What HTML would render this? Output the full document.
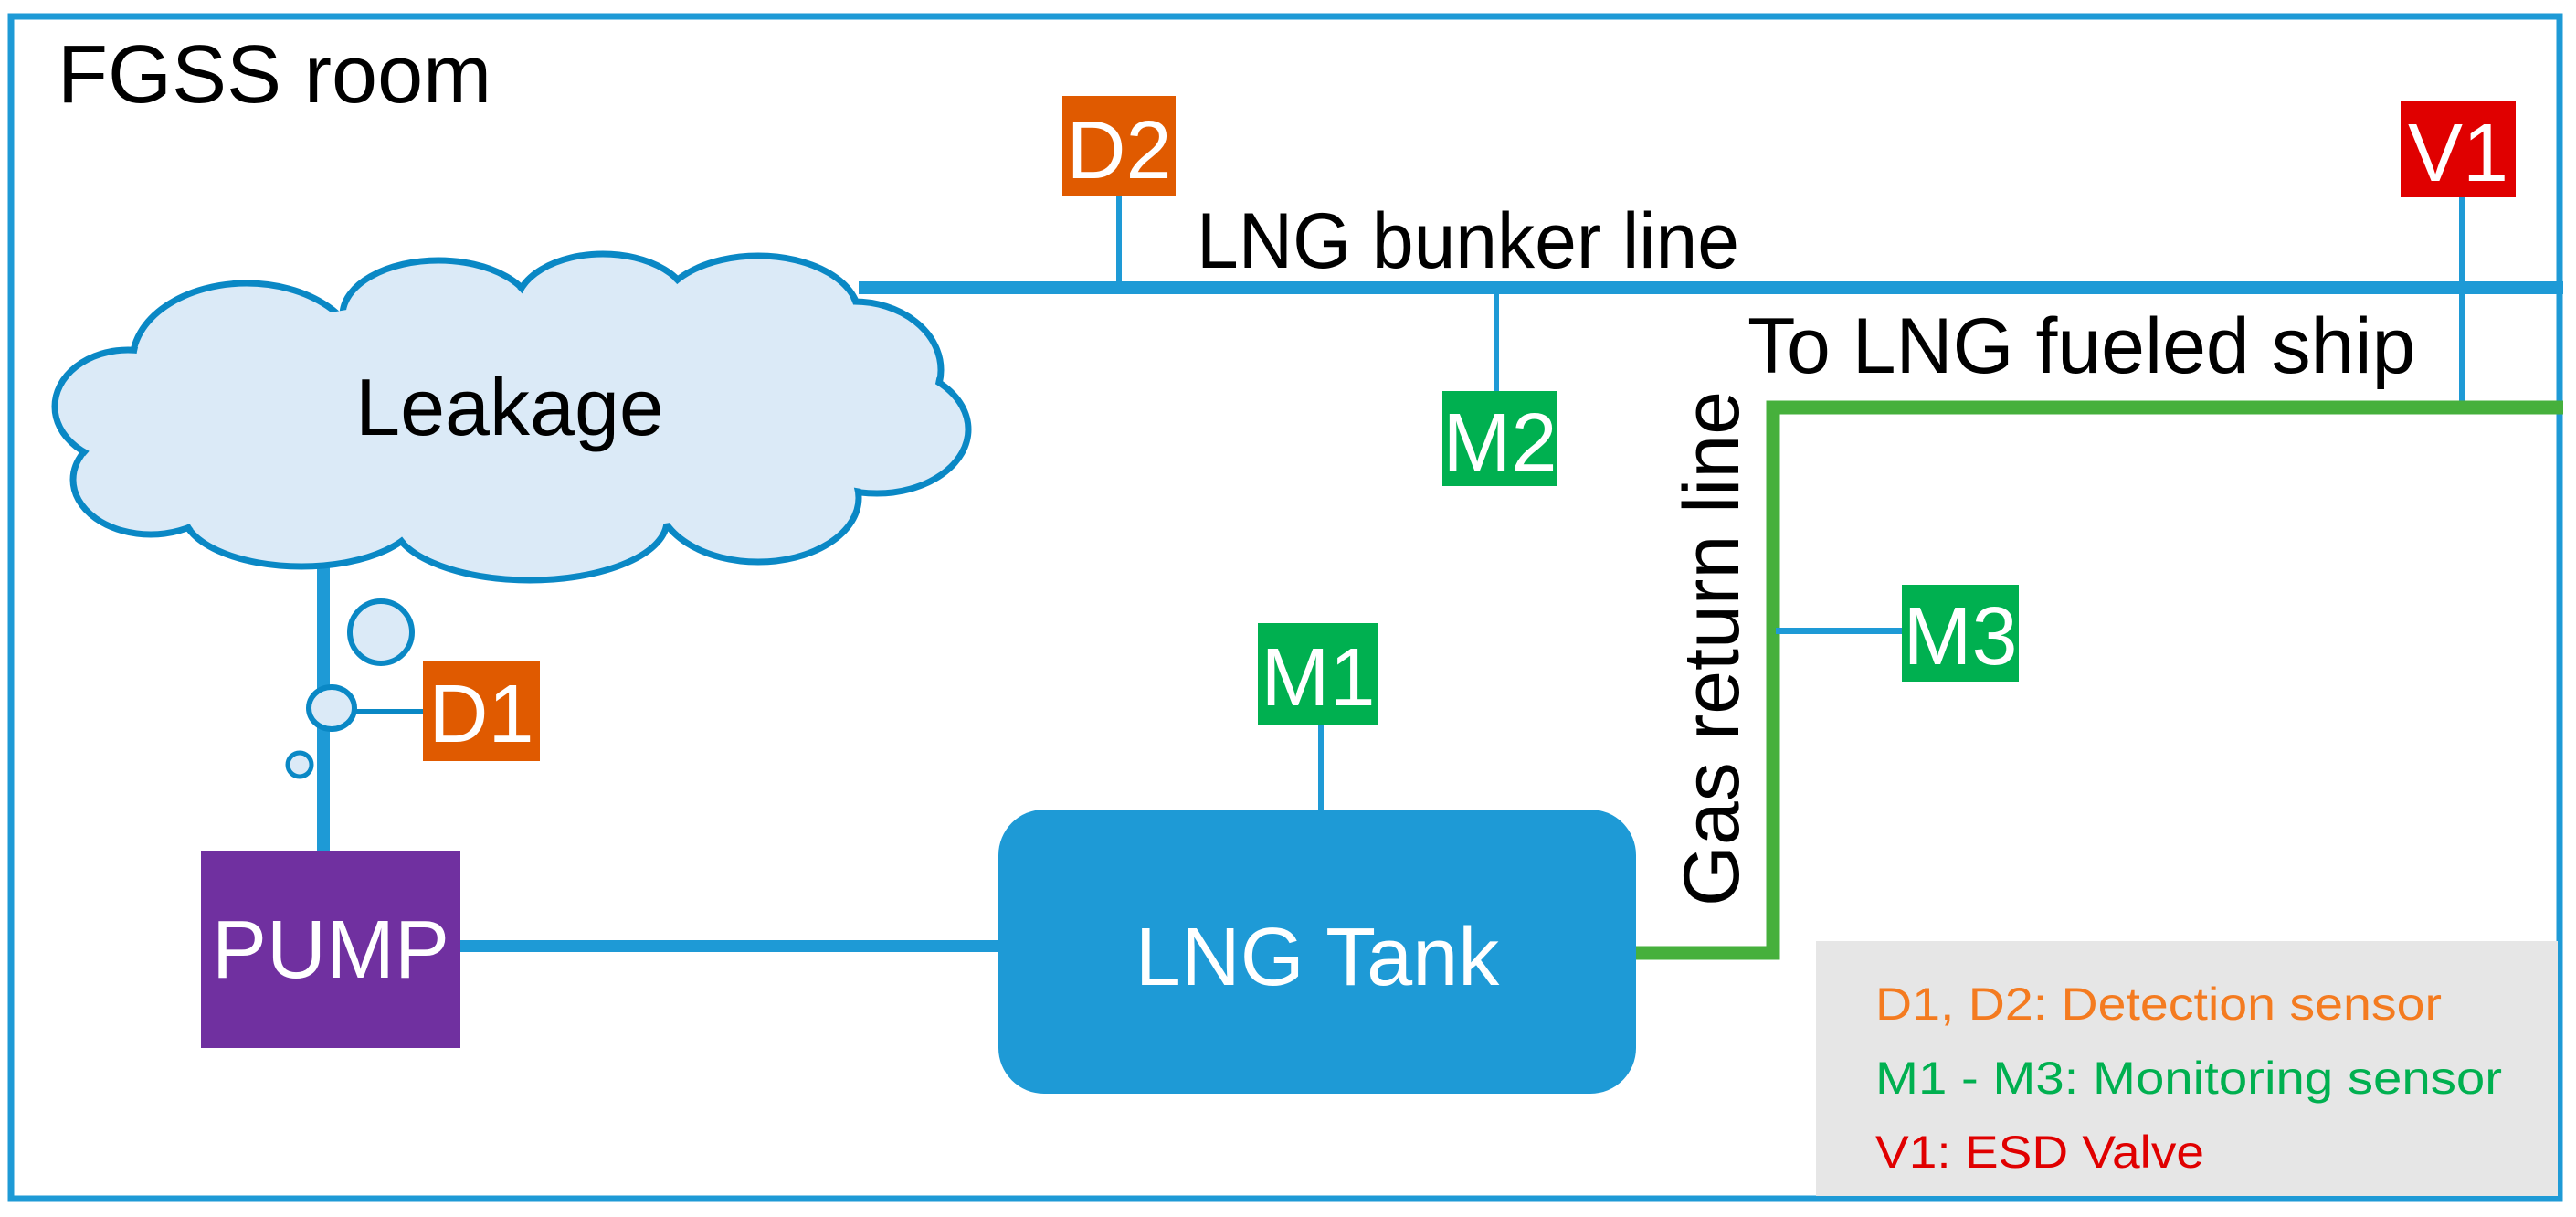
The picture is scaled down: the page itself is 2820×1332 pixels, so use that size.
<!DOCTYPE html>
<html><head><meta charset="utf-8"><style>
html,body{margin:0;padding:0;background:#fff;}
svg{display:block;}
text{font-family:"Liberation Sans",Arial,sans-serif;}
</style></head><body>
<svg width="2820" height="1332" viewBox="0 0 2820 1332" xmlns="http://www.w3.org/2000/svg">
<rect x="0" y="0" width="2820" height="1332" fill="#fff"/>
<rect x="12" y="18" width="2790" height="1294" fill="none" stroke="#1e9ad6" stroke-width="7"/>
<text x="63" y="112" font-size="90" fill="#000">FGSS room</text>

<!-- legend -->
<rect x="1988" y="1030" width="812" height="279" fill="#e6e6e6"/>
<text x="2053" y="1116" font-size="50" fill="#f47b20" textLength="620" lengthAdjust="spacingAndGlyphs">D1, D2: Detection sensor</text>
<text x="2053" y="1197" font-size="50" fill="#00b050" textLength="686" lengthAdjust="spacingAndGlyphs">M1 - M3: Monitoring sensor</text>
<text x="2053" y="1278" font-size="50" fill="#e00000" textLength="360" lengthAdjust="spacingAndGlyphs">V1: ESD Valve</text>

<!-- bunker line -->
<rect x="940" y="308" width="1866" height="14" fill="#1e9ad6"/>
<rect x="1222" y="214" width="6" height="96" fill="#1e9ad6"/>
<rect x="1635" y="315" width="6" height="115" fill="#1e9ad6"/>
<rect x="2692" y="214" width="6" height="234" fill="#1e9ad6"/>
<text x="1310" y="293" font-size="86" fill="#000" textLength="594" lengthAdjust="spacingAndGlyphs">LNG bunker line</text>
<text x="1913" y="408" font-size="86" fill="#000">To LNG fueled ship</text>

<!-- green return line -->
<polyline points="1788,1043 1941,1043 1941,446 2806,446" fill="none" stroke="#46b03c" stroke-width="15"/>
<rect x="1944" y="687" width="140" height="7" fill="#1e9ad6"/>
<text transform="translate(1903,992) rotate(-90)" font-size="86" fill="#000">Gas return line</text>

<!-- boxes -->
<rect x="1163" y="105" width="124" height="109" fill="#e05a00"/>
<text x="1225" y="195" font-size="90" fill="#fff" text-anchor="middle">D2</text>
<rect x="2628" y="110" width="126" height="106" fill="#e00000"/>
<text x="2691" y="198" font-size="90" fill="#fff" text-anchor="middle">V1</text>
<rect x="1579" y="428" width="126" height="104" fill="#00b050"/>
<text x="1642" y="515" font-size="90" fill="#fff" text-anchor="middle">M2</text>
<rect x="2082" y="640" width="128" height="106" fill="#00b050"/>
<text x="2146" y="727" font-size="90" fill="#fff" text-anchor="middle">M3</text>
<rect x="1377" y="682" width="132" height="111" fill="#00b050"/>
<text x="1443" y="772" font-size="90" fill="#fff" text-anchor="middle">M1</text>
<rect x="1443" y="793" width="6" height="95" fill="#1e9ad6"/>

<!-- tank -->
<rect x="1093" y="886" width="698" height="311" rx="50" fill="#1e9ad6"/>
<text x="1442" y="1078" font-size="90" fill="#fff" text-anchor="middle">LNG Tank</text>

<!-- pump -->
<rect x="504" y="1029" width="590" height="13" fill="#1e9ad6"/>
<rect x="347" y="600" width="14" height="333" fill="#1e9ad6"/>
<rect x="220" y="931" width="284" height="216" fill="#7030a0"/>
<text x="362" y="1070" font-size="90" fill="#fff" text-anchor="middle">PUMP</text>

<!-- D1 -->
<rect x="385" y="776" width="80" height="6" fill="#0a88c5"/>
<rect x="463" y="724" width="128" height="109" fill="#e05a00"/>
<text x="527" y="812" font-size="90" fill="#fff" text-anchor="middle">D1</text>
<circle cx="417" cy="692" r="34" fill="#dbeaf7" stroke="#0a88c5" stroke-width="6"/>
<ellipse cx="363" cy="775" rx="25" ry="23" fill="#dbeaf7" stroke="#0a88c5" stroke-width="6"/>
<circle cx="328" cy="837" r="13" fill="#dbeaf7" stroke="#0a88c5" stroke-width="5"/>

<!-- cloud -->
<g stroke="#0a88c5" stroke-width="7" fill="#dbeaf7">
<ellipse cx="270" cy="395" rx="125" ry="85"/>
<ellipse cx="480" cy="345" rx="105" ry="60"/>
<ellipse cx="660" cy="335" rx="95" ry="57"/>
<ellipse cx="830" cy="345" rx="110" ry="65"/>
<ellipse cx="935" cy="405" rx="95" ry="75"/>
<ellipse cx="960" cy="470" rx="100" ry="70"/>
<ellipse cx="830" cy="545" rx="110" ry="70"/>
<ellipse cx="580" cy="570" rx="150" ry="65"/>
<ellipse cx="330" cy="560" rx="130" ry="60"/>
<ellipse cx="165" cy="525" rx="85" ry="60"/>
<ellipse cx="140" cy="445" rx="80" ry="62"/>
</g>
<g fill="#dbeaf7">
<ellipse cx="270" cy="395" rx="121" ry="81"/>
<ellipse cx="480" cy="345" rx="101" ry="56"/>
<ellipse cx="660" cy="335" rx="91" ry="53"/>
<ellipse cx="830" cy="345" rx="106" ry="61"/>
<ellipse cx="935" cy="405" rx="91" ry="71"/>
<ellipse cx="960" cy="470" rx="96" ry="66"/>
<ellipse cx="830" cy="545" rx="106" ry="66"/>
<ellipse cx="580" cy="570" rx="146" ry="61"/>
<ellipse cx="330" cy="560" rx="126" ry="56"/>
<ellipse cx="165" cy="525" rx="81" ry="56"/>
<ellipse cx="140" cy="445" rx="76" ry="58"/>
<ellipse cx="560" cy="455" rx="400" ry="130"/>
</g>
<text x="558" y="476" font-size="88" fill="#000" text-anchor="middle">Leakage</text>
</svg>
</body></html>
